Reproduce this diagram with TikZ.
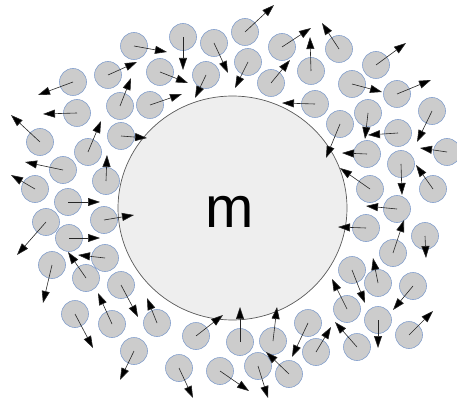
\documentclass[tikz,border=0pt]{standalone}
\usepackage{fontspec}
\setmainfont{Liberation Sans}
\usetikzlibrary{arrows.meta,shapes.geometric}
\definecolor{dotfill}{RGB}{204,204,204}
\definecolor{dotline}{RGB}{132,160,204}
\definecolor{massfill}{RGB}{238,238,238}
\tikzset{
  particle/.style={circle, draw=dotline, fill=dotfill, line width=0.6pt, minimum size=27pt, inner sep=0pt},
  vec/.style={draw=black!85, line width=0.6pt, -{Triangle[length=12pt,width=8pt, fill=black]}},
  mass/.style={ellipse, draw=black!65, fill=massfill, line width=0.7pt, minimum width=229pt, minimum height=224pt, inner sep=0pt}
}
% particle centre x/y, arrow tip x/y (pixels, y downwards)
\def\particles{134/46/167/52, 183/37/183/70, 214/43/228/73, 73/82/38/95,
  108/75/137/62, 160/72/188/83, 206/75/195/98, 77/113/43/114,
  120/106/131/78, 150/105/182/94, 40/142/11/115, 88/152/101/121,
  121/136/147/138, 63/170/25/162, 106/181/107/155, 35/189/11/175,
  68/202/100/202, 245/32/274/5, 282/47/311/28, 339/49/322/23,
  248/62/235/88, 271/83/290/60, 311/71/310/37, 376/65/406/43,
  315/104/282/103, 352/84/382/92, 397/94/431/80, 432/111/417/142,
  368/113/365/139, 340/124/326/158, 398/133/368/135, 367/154/342/153,
  401/164/402/195, 447/152/420/148, 370/189/340/168, 433/189/416/165,
  397/209/366/206, 366/228/338/227, 425/236/426/258, 393/253/404/220,
  352/270/365/303, 378/283/373/258, 413/286/393/310, 347/309/332/279,
  378/320/378/348, 409/335/433/311, 308/323/292/357, 316/352/331/327,
  357/347/335/322, 240/342/240/307, 273/341/277/307, 258/366/268/398,
  289/374/266/352, 220/371/249/391, 46/222/17/255, 104/220/134/215,
  69/238/100/238, 105/258/78/255, 52/265/43/303, 86/278/68/252,
  121/285/138/317, 75/314/93/348, 112/324/98/293, 157/323/147/298,
  196/336/223/315, 134/351/120/380, 179/368/193/398}

\begin{document}
\begin{tikzpicture}[x=1pt, y=-1pt]
  \useasboundingbox (0,0) rectangle (457,403);

  % central mass
  \node (massbody) [mass] at (232.5,208) {};
  \node (masslabel) [font=\fontsize{58}{58}\selectfont, inner sep=0pt] at (230,211.5) {m};

  % surrounding particles
  \foreach \cx/\cy/\tx/\ty [count=\i] in \particles {
    \node (p\i) [particle] at (\cx,\cy) {};
  }
  % their velocities
  \foreach \cx/\cy/\tx/\ty [count=\i] in \particles {
    \draw [vec] (p\i.center) -- (\tx,\ty);
  }
\end{tikzpicture}
\end{document}
